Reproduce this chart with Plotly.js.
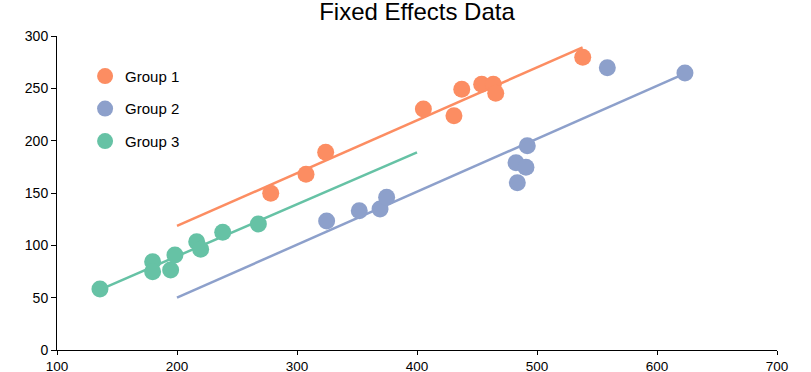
<!DOCTYPE html>
<html>
<head>
<meta charset="utf-8">
<script src="https://cdn.plot.ly/plotly-3.0.1.min.js"></script>
<style>html,body{margin:0;padding:0;background:#fff;}#chart{width:811px;height:372px;}</style>
</head>
<body>
<div id="chart"></div>
<script>
// Group data
const group1X = [278.1, 307.5, 323.9, 405.3, 430.8, 437.3, 453.9, 463.6, 465.6, 538.1];
const group1Y = [149.7, 167.9, 188.9, 230.3, 223.9, 249.1, 253.8, 253.8, 245.2, 279.6];
const group2X = [324.7, 351.9, 369.2, 374.7, 482.5, 483.6, 490.8, 491.9, 558.6, 623.3];
const group2Y = [123.2, 133.1, 134.7, 145.9, 179.0, 159.8, 174.5, 195.2, 269.7, 264.6];
const group3X = [135.8, 179.7, 179.7, 194.7, 198.3, 216.4, 219.7, 238.1, 267.8];
const group3Y = [58.3, 84.4, 74.8, 76.4, 90.8, 103.5, 96.2, 112.4, 120.4];

// Fitted line endpoints
const fit1X = [200, 538];
const fit1Y = [118.5, 289.2];
const fit2X = [200, 624];
const fit2Y = [50.0, 264.6];
const fit3X = [135, 400];
const fit3Y = [57.3, 188.9];

const names = ['Group 1', 'Group 2', 'Group 3'];
const colors = ['#fc8d62', '#8da0cb', '#66c2a5'];

const FONT = '"Liberation Sans", Arial, Helvetica, sans-serif';

const fits = [[fit1X, fit1Y], [fit2X, fit2Y], [fit3X, fit3Y]];
const pts = [[group1X, group1Y], [group2X, group2Y], [group3X, group3Y]];

const traces = [];
fits.forEach((f, i) => {
  traces.push({
    x: f[0], y: f[1], type: 'scatter', mode: 'lines',
    line: {color: colors[i], width: 2.5},
    showlegend: false, hoverinfo: 'skip', cliponaxis: false
  });
});
pts.forEach((p, i) => {
  traces.push({
    x: p[0], y: p[1], type: 'scatter', mode: 'markers', name: names[i],
    legendgroup: 'g' + i,
    marker: {color: colors[i], size: 17, line: {width: 0}},
    cliponaxis: false
  });
});

const layout = {
  width: 811, height: 372,
  margin: {l: 57, r: 34, t: 36, b: 22},
  paper_bgcolor: '#fff', plot_bgcolor: '#fff',
  font: {family: FONT, size: 14, color: '#000'},
  title: {
    text: 'Fixed Effects Data',
    font: {family: FONT, size: 24, color: '#000'},
    x: 0.5, xanchor: 'center', xref: 'paper',
    y: 0.97, yanchor: 'middle', yref: 'container'
  },
  xaxis: {
    range: [100, 700], dtick: 100, tick0: 100,
    showgrid: false, zeroline: false,
    showline: true, linecolor: '#000', linewidth: 1,
    ticks: 'outside', ticklen: 4, tickcolor: '#000', tickwidth: 1,
    tickfont: {family: FONT, size: 13.5, color: '#000'}
  },
  yaxis: {
    range: [0, 300], dtick: 50, tick0: 0,
    showgrid: false, zeroline: false,
    showline: true, linecolor: '#000', linewidth: 1,
    ticks: 'outside', ticklen: 5, tickcolor: '#000', tickwidth: 1,
    tickfont: {family: FONT, size: 14, color: '#000'}
  },
  showlegend: true,
  legend: {
    x: 0.039, y: 0.924, xanchor: 'left', yanchor: 'top',
    bgcolor: 'rgba(0,0,0,0)', borderwidth: 0,
    font: {family: FONT, size: 15, color: '#000'},
    traceorder: 'grouped', tracegroupgap: 10
  }
};

Plotly.newPlot('chart', traces, layout, {displayModeBar: false, staticPlot: true});
</script>
</body>
</html>
